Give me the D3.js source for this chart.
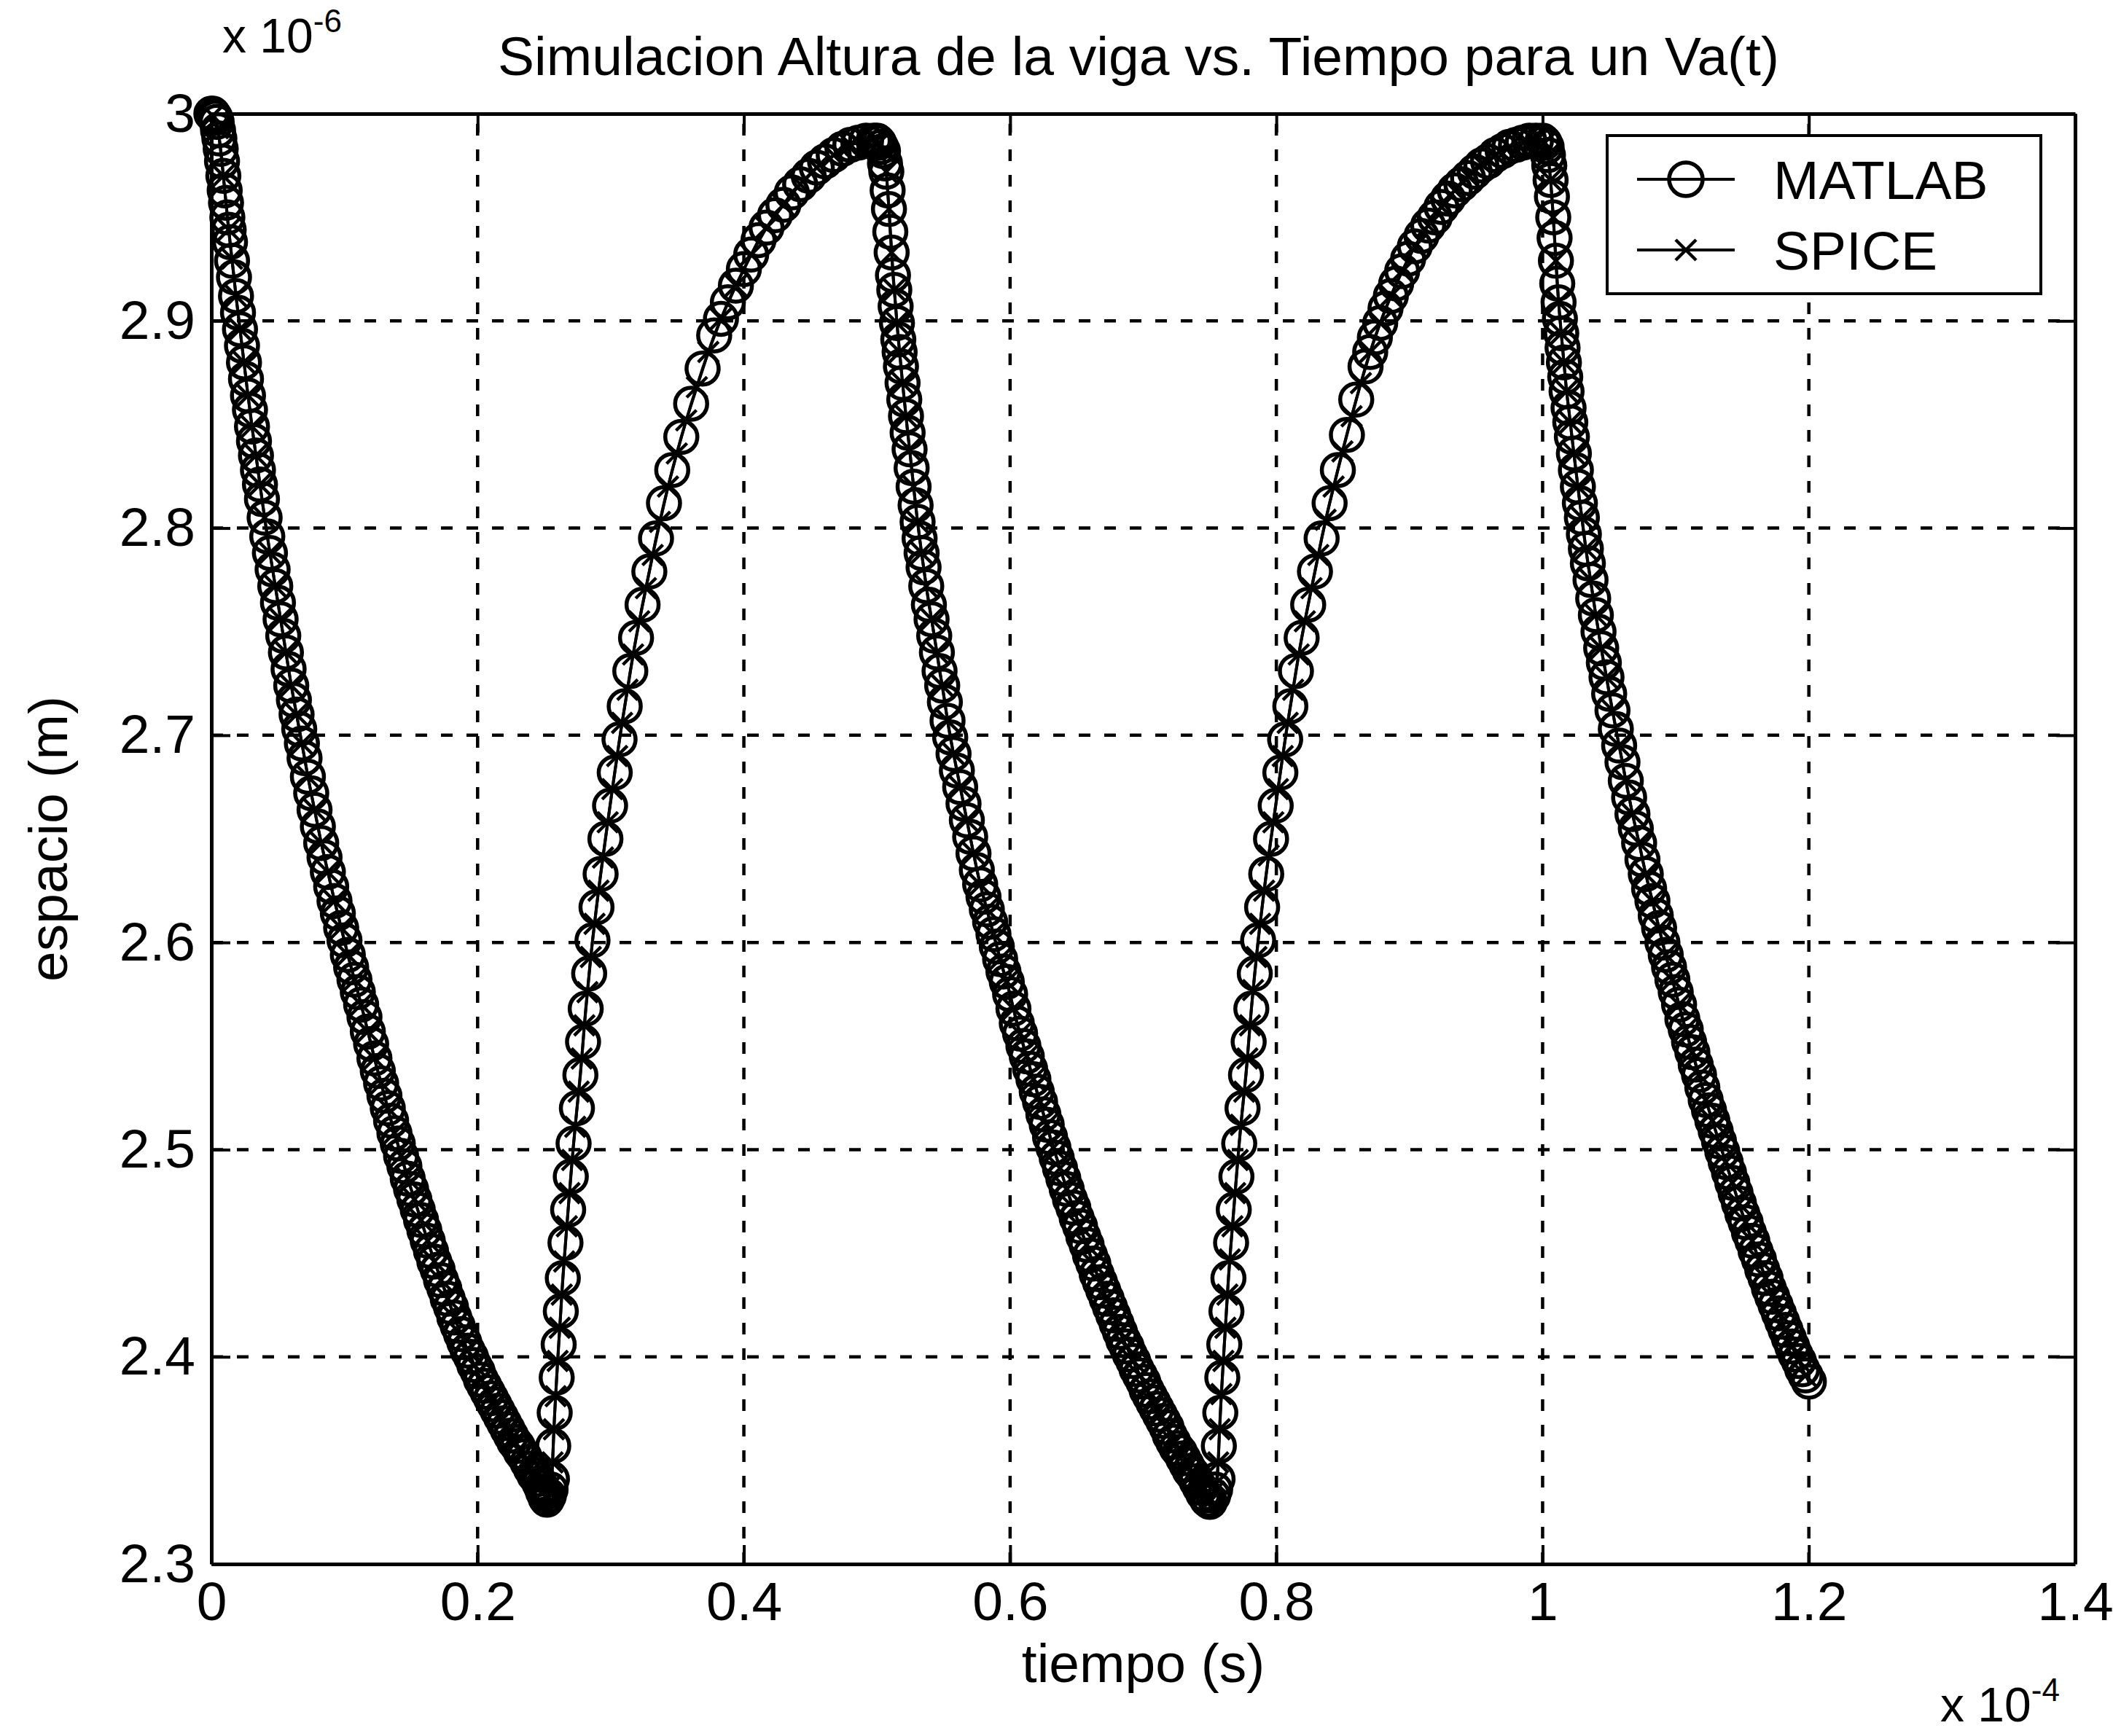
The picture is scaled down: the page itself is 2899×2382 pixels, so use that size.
<!DOCTYPE html>
<html>
<head>
<meta charset="utf-8">
<script src="https://cdn.jsdelivr.net/npm/d3@7"></script>
<style>
  html, body { margin: 0; padding: 0; background: #fff; }
  svg { display: block; }
  text { font-family: "Liberation Sans", Arial, Helvetica, sans-serif; fill: #000; }
</style>
</head>
<body>
<svg id="chart"></svg>
<script>
// Beam height vs. time under a drive voltage Va(t): MATLAB model against SPICE.
// Time in units of 1e-4 s, height in units of 1e-6 m.

const xTicks = [0, 0.2, 0.4, 0.6, 0.8, 1.0, 1.2, 1.4];
const xTickLabels = ["0", "0.2", "0.4", "0.6", "0.8", "1", "1.2", "1.4"];
const yTicks = [2.3, 2.4, 2.5, 2.6, 2.7, 2.8, 2.9, 3.0];
const yTickLabels = ["2.3", "2.4", "2.5", "2.6", "2.7", "2.8", "2.9", "3"];

const seriesNames = ["MATLAB", "SPICE"];

// [tiempo, altura] samples of the MATLAB simulation
const matlab = [
  // first fall
  [0.000,3.000],[0.001,3.000],[0.002,2.999],[0.003,2.998],[0.004,2.996],[0.005,2.992],[0.006,2.988],[0.007,2.983],
  [0.008,2.977],[0.009,2.970],[0.010,2.963],[0.011,2.957],[0.012,2.950],[0.013,2.944],[0.014,2.938],[0.0155,2.929],
  [0.017,2.921],[0.0185,2.912],[0.020,2.904],[0.0215,2.896],[0.023,2.888],[0.0245,2.880],[0.026,2.872],[0.0275,2.864],
  [0.029,2.857],[0.0305,2.849],[0.032,2.842],[0.0335,2.835],[0.035,2.828],[0.0365,2.821],[0.038,2.814],[0.040,2.805],
  [0.042,2.796],[0.044,2.788],[0.046,2.780],[0.048,2.772],[0.050,2.764],[0.052,2.756],[0.054,2.748],[0.056,2.740],
  [0.058,2.732],[0.060,2.724],[0.062,2.717],[0.064,2.710],[0.066,2.703],[0.068,2.696],[0.070,2.689],[0.0725,2.680],
  [0.075,2.672],[0.0775,2.664],[0.080,2.656],[0.0825,2.648],[0.085,2.641],[0.0875,2.634],[0.090,2.627],[0.0925,2.620],
  [0.095,2.614],[0.0975,2.607],[0.100,2.601],[0.1025,2.594],[0.105,2.588],[0.1075,2.582],[0.110,2.576],[0.1125,2.570],
  [0.115,2.564],[0.1175,2.557],[0.120,2.551],[0.1225,2.544],[0.125,2.538],[0.1275,2.532],[0.130,2.526],[0.1325,2.520],
  [0.135,2.514],[0.1375,2.508],[0.140,2.503],[0.1425,2.497],[0.145,2.492],[0.1475,2.486],[0.150,2.481],[0.1525,2.476],
  [0.155,2.471],[0.1575,2.466],[0.160,2.461],[0.1625,2.456],[0.165,2.451],[0.1675,2.446],[0.170,2.442],[0.1725,2.437],
  [0.175,2.433],[0.1775,2.428],[0.180,2.424],[0.1825,2.419],[0.185,2.415],[0.1875,2.411],[0.190,2.407],[0.1925,2.403],
  [0.195,2.400],[0.1975,2.396],[0.200,2.393],[0.2025,2.389],[0.205,2.386],[0.2075,2.383],[0.210,2.380],[0.2125,2.377],
  [0.215,2.374],[0.2175,2.371],[0.220,2.368],[0.2225,2.365],[0.225,2.362],[0.2275,2.359],[0.230,2.357],[0.2325,2.354],
  [0.235,2.352],[0.2375,2.349],[0.240,2.346],[0.2425,2.343],[0.245,2.341],[0.2465,2.339],[0.248,2.337],[0.249,2.335],
  [0.250,2.334],[0.251,2.332],[0.252,2.331],
  // first rise
  [0.2535,2.333],[0.2548,2.336],[0.2558,2.341],[0.2568,2.357],[0.2579,2.373],[0.2594,2.390],[0.2609,2.406],[0.2625,2.422],
  [0.2640,2.438],[0.2660,2.455],[0.2680,2.471],[0.2700,2.487],[0.2721,2.503],[0.2746,2.520],[0.2772,2.536],[0.2792,2.552],
  [0.2812,2.568],[0.2838,2.585],[0.2863,2.601],[0.2893,2.617],[0.2924,2.633],[0.2960,2.650],[0.2995,2.666],[0.3030,2.682],
  [0.3066,2.698],[0.3105,2.714],[0.3147,2.731],[0.3190,2.747],[0.3239,2.763],[0.3290,2.779],[0.3340,2.795],[0.3400,2.812],
  [0.3462,2.828],[0.3530,2.844],[0.3604,2.860],[0.3690,2.877],[0.3777,2.893],[0.3828,2.901],[0.3880,2.909],[0.3940,2.917],
  [0.4000,2.925],[0.4055,2.932],[0.4110,2.939],[0.4170,2.945],[0.4234,2.951],[0.4297,2.956],[0.4360,2.962],[0.4423,2.966],
  [0.4487,2.970],[0.4548,2.974],[0.4610,2.977],[0.4675,2.980],[0.4741,2.983],[0.4800,2.985],[0.4860,2.986],[0.4918,2.987],
  [0.4975,2.987],
  // second fall
  [0.500,2.987],[0.5015,2.986],[0.503,2.984],[0.5045,2.982],[0.506,2.976],[0.507,2.972],[0.508,2.963],[0.509,2.954],
  [0.510,2.943],[0.511,2.933],[0.512,2.922],[0.513,2.915],[0.514,2.907],[0.515,2.899],[0.516,2.891],[0.517,2.885],
  [0.518,2.878],[0.5192,2.870],[0.5205,2.862],[0.5218,2.854],[0.523,2.846],[0.5245,2.838],[0.526,2.829],[0.5275,2.820],
  [0.529,2.811],[0.5305,2.803],[0.532,2.795],[0.5335,2.788],[0.535,2.781],[0.537,2.772],[0.539,2.763],[0.541,2.756],
  [0.543,2.748],[0.545,2.740],[0.547,2.731],[0.549,2.724],[0.551,2.716],[0.553,2.707],[0.555,2.699],[0.5575,2.691],
  [0.560,2.683],[0.5625,2.675],[0.565,2.667],[0.5675,2.659],[0.570,2.651],[0.5725,2.643],[0.575,2.635],[0.5775,2.628],
  [0.580,2.622],[0.5825,2.616],[0.585,2.610],[0.5875,2.604],[0.590,2.598],[0.5925,2.592],[0.595,2.586],[0.5975,2.581],
  [0.600,2.575],[0.6025,2.568],[0.605,2.561],[0.6075,2.556],[0.610,2.550],[0.6125,2.545],[0.615,2.539],[0.6175,2.534],
  [0.620,2.528],[0.6225,2.523],[0.625,2.517],[0.6275,2.512],[0.630,2.506],[0.6325,2.501],[0.635,2.496],[0.6375,2.491],
  [0.640,2.486],[0.6425,2.481],[0.645,2.476],[0.6475,2.472],[0.650,2.467],[0.6525,2.463],[0.655,2.458],[0.6575,2.454],
  [0.660,2.449],[0.6625,2.445],[0.665,2.440],[0.6675,2.436],[0.670,2.432],[0.6725,2.428],[0.675,2.424],[0.6775,2.420],
  [0.680,2.416],[0.6825,2.412],[0.685,2.408],[0.6875,2.405],[0.690,2.401],[0.6925,2.398],[0.695,2.394],[0.6975,2.391],
  [0.700,2.388],[0.7025,2.384],[0.705,2.381],[0.7075,2.378],[0.710,2.375],[0.7125,2.372],[0.715,2.369],[0.7175,2.366],
  [0.720,2.362],[0.7225,2.359],[0.725,2.356],[0.7275,2.354],[0.730,2.351],[0.7325,2.348],[0.735,2.345],[0.7375,2.343],
  [0.740,2.340],[0.7425,2.337],[0.745,2.334],[0.7465,2.333],[0.748,2.331],[0.749,2.331],[0.750,2.330],
  // second rise
  [0.7525,2.333],[0.754,2.336],[0.7558,2.341],[0.7568,2.357],[0.7579,2.373],[0.7594,2.390],[0.7609,2.406],[0.7625,2.422],
  [0.764,2.438],[0.766,2.455],[0.768,2.471],[0.770,2.487],[0.7721,2.503],[0.7746,2.520],[0.7772,2.536],[0.7792,2.552],
  [0.7812,2.568],[0.7838,2.585],[0.7863,2.601],[0.7893,2.617],[0.7924,2.633],[0.796,2.650],[0.7995,2.666],[0.803,2.682],
  [0.8066,2.698],[0.8105,2.714],[0.8147,2.731],[0.819,2.747],[0.8239,2.763],[0.829,2.779],[0.834,2.795],[0.840,2.812],
  [0.8462,2.828],[0.853,2.845],[0.860,2.862],[0.867,2.878],[0.8705,2.885],[0.874,2.892],[0.878,2.899],[0.882,2.906],
  [0.886,2.912],[0.890,2.918],[0.8945,2.924],[0.899,2.930],[0.904,2.936],[0.909,2.941],[0.914,2.946],[0.919,2.950],
  [0.924,2.955],[0.929,2.959],[0.934,2.963],[0.939,2.966],[0.944,2.969],[0.949,2.972],[0.954,2.975],[0.959,2.977],
  [0.9645,2.980],[0.970,2.982],[0.975,2.984],[0.980,2.985],[0.985,2.986],[0.990,2.987],[0.995,2.987],[1.000,2.987],
  // third fall
  [1.0015,2.986],[1.003,2.984],[1.004,2.980],[1.005,2.975],[1.006,2.968],[1.007,2.960],[1.008,2.950],[1.009,2.940],
  [1.010,2.929],[1.011,2.918],[1.012,2.909],[1.013,2.901],[1.014,2.894],[1.015,2.887],[1.016,2.880],[1.017,2.873],
  [1.018,2.866],[1.0195,2.858],[1.0208,2.851],[1.022,2.844],[1.0235,2.836],[1.025,2.828],[1.0265,2.820],[1.028,2.812],
  [1.0295,2.805],[1.031,2.797],[1.0325,2.790],[1.034,2.783],[1.036,2.775],[1.038,2.766],[1.040,2.758],[1.042,2.750],
  [1.044,2.742],[1.046,2.735],[1.048,2.728],[1.050,2.720],[1.0525,2.712],[1.055,2.703],[1.0575,2.695],[1.060,2.687],
  [1.0625,2.678],[1.065,2.670],[1.0675,2.662],[1.070,2.655],[1.0725,2.648],[1.075,2.640],[1.0775,2.633],[1.080,2.626],
  [1.0825,2.620],[1.085,2.613],[1.0875,2.607],[1.090,2.600],[1.0925,2.594],[1.095,2.588],[1.0975,2.582],[1.100,2.576],
  [1.1025,2.570],[1.105,2.563],[1.1075,2.558],[1.110,2.552],[1.1125,2.547],[1.115,2.541],[1.1175,2.536],[1.120,2.530],
  [1.1225,2.524],[1.125,2.519],[1.1275,2.514],[1.130,2.509],[1.1325,2.504],[1.135,2.499],[1.1375,2.494],[1.140,2.489],
  [1.1425,2.484],[1.145,2.479],[1.1475,2.474],[1.150,2.469],[1.1525,2.465],[1.155,2.460],[1.1575,2.456],[1.160,2.451],
  [1.1625,2.447],[1.165,2.442],[1.1675,2.438],[1.170,2.433],[1.1725,2.429],[1.175,2.425],[1.1775,2.421],[1.180,2.417],
  [1.1825,2.413],[1.185,2.409],[1.1875,2.405],[1.190,2.401],[1.1925,2.398],[1.195,2.394],[1.1975,2.391],[1.200,2.388]
];

// [tiempo, altura] samples of the SPICE transient run
const spice = [
  [0.001,2.999],[0.005,2.993],[0.009,2.970],[0.013,2.944],[0.0155,2.930],[0.0185,2.912],[0.0215,2.896],[0.0245,2.880],
  [0.0275,2.864],[0.0305,2.849],[0.0335,2.835],[0.0365,2.821],[0.040,2.805],[0.044,2.788],[0.048,2.772],[0.052,2.756],
  [0.056,2.740],[0.060,2.724],[0.064,2.710],[0.068,2.696],[0.0725,2.680],[0.0775,2.664],[0.0825,2.648],[0.0875,2.634],
  [0.0925,2.620],[0.0975,2.607],[0.1025,2.594],[0.1075,2.582],[0.1125,2.570],[0.1175,2.557],[0.1225,2.544],[0.1275,2.532],
  [0.1325,2.520],[0.1375,2.508],[0.1425,2.497],[0.1475,2.486],[0.1525,2.476],[0.1575,2.466],[0.1625,2.456],[0.1675,2.446],
  [0.1725,2.437],[0.1775,2.428],[0.1825,2.419],[0.1875,2.411],[0.1925,2.403],[0.1975,2.396],[0.2025,2.389],[0.2075,2.383],
  [0.2125,2.377],[0.2175,2.371],[0.2225,2.365],[0.2275,2.359],[0.2325,2.354],[0.2375,2.349],[0.2425,2.343],[0.2465,2.339],
  [0.249,2.335],[0.2515,2.332],
  [0.2532,2.332],[0.2553,2.338],[0.2563,2.349],[0.2573,2.365],[0.2586,2.381],[0.2601,2.398],[0.2617,2.414],[0.2632,2.430],
  [0.2650,2.446],[0.2670,2.463],[0.2690,2.479],[0.2710,2.495],[0.2733,2.511],[0.2759,2.528],[0.2782,2.544],[0.2802,2.560],
  [0.2825,2.576],[0.2850,2.593],[0.2878,2.609],[0.2908,2.625],[0.2942,2.641],[0.2977,2.658],[0.3012,2.674],[0.3048,2.690],
  [0.3085,2.706],[0.3126,2.722],[0.3168,2.739],[0.3214,2.755],[0.3264,2.771],[0.3315,2.787],[0.3370,2.803],[0.3430,2.820],
  [0.3496,2.836],[0.3567,2.852],[0.3647,2.868],[0.3733,2.885],[0.3828,2.901],[0.3940,2.917],[0.4055,2.932],[0.4170,2.945],
  [0.4297,2.956],[0.4423,2.966],[0.4548,2.974],[0.4675,2.980],[0.4800,2.985],[0.4918,2.987],[0.4995,2.987],
  [0.5015,2.986],[0.5045,2.982],[0.507,2.972],[0.509,2.954],[0.511,2.933],[0.513,2.915],[0.515,2.899],[0.517,2.885],
  [0.5192,2.870],[0.5218,2.854],[0.5245,2.838],[0.5275,2.820],[0.5305,2.803],[0.5335,2.788],[0.537,2.772],[0.541,2.756],
  [0.545,2.740],[0.549,2.724],[0.553,2.707],[0.5575,2.691],[0.5625,2.675],[0.5675,2.659],[0.5725,2.643],[0.5775,2.628],
  [0.5825,2.616],[0.5875,2.604],[0.5925,2.592],[0.5975,2.581],[0.6025,2.568],[0.6075,2.556],[0.6125,2.545],[0.6175,2.534],
  [0.6225,2.523],[0.6275,2.512],[0.6325,2.501],[0.6375,2.491],[0.6425,2.481],[0.6475,2.472],[0.6525,2.463],[0.6575,2.454],
  [0.6625,2.445],[0.6675,2.436],[0.6725,2.428],[0.6775,2.420],[0.6825,2.412],[0.6875,2.405],[0.6925,2.398],[0.6975,2.391],
  [0.7025,2.384],[0.7075,2.378],[0.7125,2.372],[0.7175,2.366],[0.7225,2.359],[0.7275,2.354],[0.7325,2.348],[0.7375,2.343],
  [0.7425,2.337],[0.7465,2.333],[0.749,2.331],
  [0.7512,2.331],[0.7532,2.335],[0.7549,2.339],[0.7563,2.349],[0.7574,2.365],[0.7587,2.382],[0.7602,2.398],[0.7617,2.414],
  [0.7632,2.430],[0.765,2.447],[0.767,2.463],[0.769,2.479],[0.771,2.495],[0.7733,2.512],[0.7759,2.528],[0.7782,2.544],
  [0.7802,2.560],[0.7825,2.577],[0.785,2.593],[0.7878,2.609],[0.7908,2.625],[0.7942,2.642],[0.7977,2.658],[0.8012,2.674],
  [0.8048,2.690],[0.8085,2.706],[0.8126,2.722],[0.8168,2.739],[0.8214,2.755],[0.8264,2.771],[0.8315,2.787],[0.837,2.804],
  [0.843,2.820],[0.8496,2.837],[0.8565,2.854],[0.8635,2.870],[0.8705,2.885],[0.878,2.899],[0.886,2.912],[0.8945,2.924],
  [0.904,2.936],[0.914,2.946],[0.924,2.955],[0.934,2.963],[0.944,2.970],[0.954,2.976],[0.9645,2.980],[0.975,2.984],
  [0.985,2.986],[0.995,2.987],
  [1.0015,2.986],[1.004,2.980],[1.006,2.968],[1.008,2.950],[1.010,2.929],[1.012,2.909],[1.014,2.894],[1.016,2.880],
  [1.018,2.866],[1.0208,2.851],[1.0235,2.836],[1.0265,2.820],[1.0295,2.805],[1.0325,2.790],[1.036,2.775],[1.040,2.758],
  [1.044,2.742],[1.048,2.728],[1.0525,2.712],[1.0575,2.695],[1.0625,2.678],[1.0675,2.662],[1.0725,2.648],[1.0775,2.633],
  [1.0825,2.620],[1.0875,2.607],[1.0925,2.594],[1.0975,2.582],[1.1025,2.570],[1.1075,2.558],[1.1125,2.547],[1.1175,2.536],
  [1.1225,2.524],[1.1275,2.514],[1.1325,2.504],[1.1375,2.494],[1.1425,2.484],[1.1475,2.474],[1.1525,2.465],[1.1575,2.456],
  [1.1625,2.447],[1.1675,2.438],[1.1725,2.429],[1.1775,2.421],[1.1825,2.413],[1.1875,2.405],[1.1925,2.398],[1.1975,2.391]
];

// ---- layout ----
const W = 2899, H = 2382;
const plot = { left: 290, right: 2847, top: 156, bottom: 2146 };
const FONT = 75;
const TICK = 26;

const svg = d3.select("#chart").attr("width", W).attr("height", H)
  .attr("viewBox", `0 0 ${W} ${H}`);
svg.append("rect").attr("width", W).attr("height", H).attr("fill", "#fff");

const x = d3.scaleLinear().domain([0, 1.4]).range([plot.left, plot.right]);
const y = d3.scaleLinear().domain([2.3, 3.0]).range([plot.bottom, plot.top]);

// ---- dashed grid ----
const grid = svg.append("g").attr("stroke", "#000").attr("stroke-width", 4.5)
  .attr("stroke-dasharray", "16,19").attr("fill", "none");
grid.selectAll("line.gx").data(xTicks.slice(1, -1)).join("line")
  .attr("class", "gx")
  .attr("x1", d => x(d)).attr("x2", d => x(d))
  .attr("y1", plot.bottom).attr("y2", plot.top);
grid.selectAll("line.gy").data(yTicks.slice(1, -1)).join("line")
  .attr("class", "gy")
  .attr("x1", plot.left).attr("x2", plot.right)
  .attr("y1", d => y(d)).attr("y2", d => y(d));

// ---- series ----
const line = d3.line().x(d => x(d[0])).y(d => y(d[1]));
const dataG = svg.append("g");
const CROSS = "M-14,-14L14,14M-14,14L14,-14";

function drawSeries(data, kind) {
  const g = dataG.append("g").attr("class", kind);
  g.append("path").datum(data).attr("d", line)
    .attr("fill", "none").attr("stroke", "#000").attr("stroke-width", 4)
    .attr("stroke-linejoin", "round");
  if (kind === "circle") {
    g.selectAll("circle").data(data).join("circle")
      .attr("cx", d => x(d[0])).attr("cy", d => y(d[1])).attr("r", 22)
      .attr("fill", "none").attr("stroke", "#000").attr("stroke-width", 5.5);
  } else {
    g.selectAll("path.m").data(data).join("path").attr("class", "m")
      .attr("transform", d => `translate(${x(d[0])},${y(d[1])})`)
      .attr("d", CROSS)
      .attr("fill", "none").attr("stroke", "#000").attr("stroke-width", 4.5);
  }
}
drawSeries(matlab, "circle");
drawSeries(spice, "cross");

// ---- axes (ticks inward on all four sides) ----
function styleAxis(g) {
  g.attr("font-size", null).attr("font-family", null);
  g.select(".domain").attr("stroke-width", 5);
  g.selectAll(".tick line").attr("stroke-width", 4);
  g.selectAll(".tick text").attr("font-size", FONT).attr("fill", "#000");
}

svg.append("g").attr("transform", `translate(0,${plot.bottom})`)
  .call(d3.axisBottom(x).tickValues(xTicks).tickSizeInner(-TICK).tickSizeOuter(0)
    .tickPadding(24).tickFormat((d, i) => xTickLabels[i]))
  .call(styleAxis);

svg.append("g").attr("transform", `translate(0,${plot.top})`)
  .call(d3.axisTop(x).tickValues(xTicks).tickSizeInner(-TICK).tickSizeOuter(0).tickFormat(""))
  .call(styleAxis);

svg.append("g").attr("transform", `translate(${plot.left},0)`)
  .call(d3.axisLeft(y).tickValues(yTicks).tickSizeInner(-TICK).tickSizeOuter(0)
    .tickPadding(22).tickFormat((d, i) => yTickLabels[i]))
  .call(styleAxis);

svg.append("g").attr("transform", `translate(${plot.right},0)`)
  .call(d3.axisRight(y).tickValues(yTicks).tickSizeInner(-TICK).tickSizeOuter(0).tickFormat(""))
  .call(styleAxis);

// ---- titles and exponent labels ----
svg.append("text").attr("x", 1562).attr("y", 103).attr("text-anchor", "middle")
  .attr("font-size", FONT).text("Simulacion Altura de la viga vs. Tiempo para un Va(t)");

svg.append("text").attr("x", (plot.left + plot.right) / 2).attr("y", 2308)
  .attr("text-anchor", "middle").attr("font-size", FONT).text("tiempo (s)");

svg.append("text").attr("transform", `translate(92,${(plot.top + plot.bottom) / 2}) rotate(-90)`)
  .attr("text-anchor", "middle").attr("font-size", FONT).text("espacio (m)");

const expY = svg.append("text").attr("x", 305).attr("y", 72).attr("font-size", 66);
expY.append("tspan").text("x 10");
expY.append("tspan").attr("font-size", 44).attr("dy", -28).text("-6");

const expX = svg.append("text").attr("x", 2662).attr("y", 2362).attr("font-size", 66);
expX.append("tspan").text("x 10");
expX.append("tspan").attr("font-size", 44).attr("dy", -28).text("-4");

// ---- legend ----
const legend = svg.append("g");
legend.append("rect").attr("x", 2205).attr("y", 186).attr("width", 595).attr("height", 217)
  .attr("fill", "#fff").attr("stroke", "#000").attr("stroke-width", 4);

const rows = legend.selectAll("g.row").data(seriesNames).join("g").attr("class", "row")
  .attr("transform", (d, i) => `translate(0,${i === 0 ? 246 : 343})`);
rows.append("line").attr("x1", 2246).attr("x2", 2380).attr("y1", 0).attr("y2", 0)
  .attr("stroke", "#000").attr("stroke-width", 4);
rows.filter((d, i) => i === 0).append("circle").attr("cx", 2313).attr("cy", 0).attr("r", 23)
  .attr("fill", "none").attr("stroke", "#000").attr("stroke-width", 5.5);
rows.filter((d, i) => i === 1).append("path")
  .attr("transform", "translate(2313,0)").attr("d", CROSS)
  .attr("fill", "none").attr("stroke", "#000").attr("stroke-width", 4.5);
rows.append("text").attr("x", 2433).attr("y", 27).attr("font-size", FONT).text(d => d);
</script>
</body>
</html>
